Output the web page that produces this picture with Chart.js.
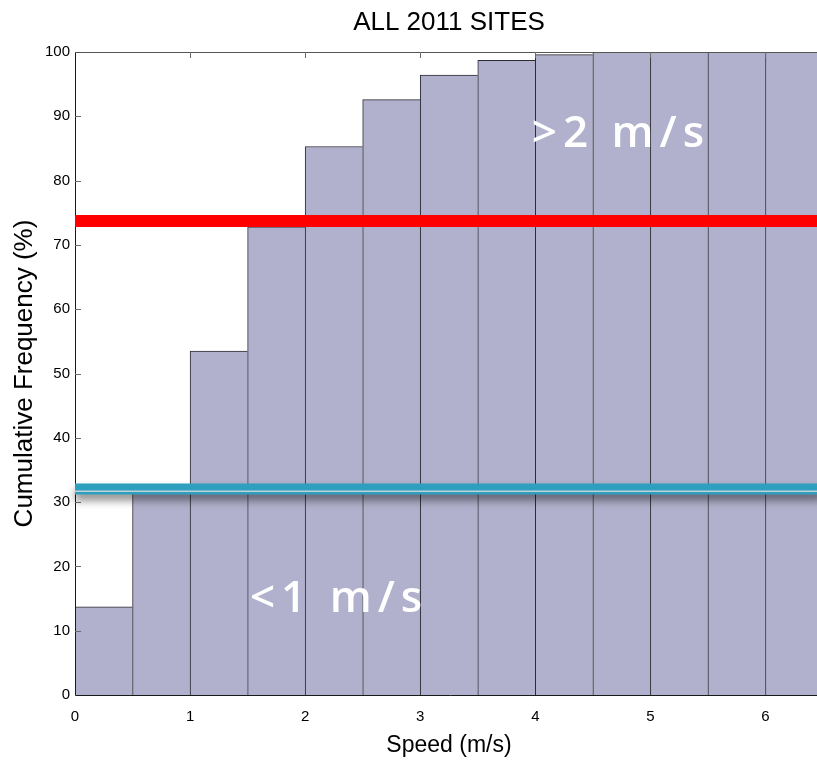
<!DOCTYPE html>
<html>
<head>
<meta charset="utf-8">
<title>ALL 2011 SITES</title>
<script src="https://cdn.jsdelivr.net/npm/chart.js@4.4.1/dist/chart.umd.min.js"></script>
<style>
  html, body { margin: 0; padding: 0; background: #ffffff; overflow: hidden; }
  #wrap { width: 817px; height: 764px; overflow: hidden; }
  canvas { display: block; }
</style>
</head>
<body>
<div id="wrap"><canvas id="cdf" width="824" height="764"></canvas></div>
<script>
// Speed bins (centre of each 0.5 m/s bin) and cumulative frequency (%)
const binCentres = [0.25, 0.75, 1.25, 1.75, 2.25, 2.75, 3.25, 3.75, 4.25, 4.75, 5.25, 5.75, 6.25];
const cumFreq    = [13.7, 31.7, 53.5, 72.8, 85.3, 92.6, 96.4, 98.7, 99.6, 99.95, 100, 100, 100];

// Threshold levels (%)
const levelAbove2 = 73.7;   // share of time below 2 m/s
const levelBelow1 = 32.05;  // share of time below 1 m/s
const levelBelow1Edge = 31.7;

// Axis ticks
const speedTicks = [0, 1, 2, 3, 4, 5, 6];
const freqTicks  = [0, 10, 20, 30, 40, 50, 60, 70, 80, 90, 100];

// Text notes placed in data units
const notes = [
  { text: '<1 m/s', x: 1.52, y: 12.9 },
  { text: '>2 m/s', x: 3.97, y: 85.2 }
];

const chartTitle = 'ALL 2011 SITES';
const X_MAX = 6.5;

Chart.defaults.font.family = "'Liberation Sans', Arial, Helvetica, sans-serif";
Chart.defaults.color = '#000000';

const span = (lvl) => [{ x: 0, y: lvl }, { x: X_MAX, y: lvl }];

// Box, inward tick marks, title over the axes and the text notes
const framePlugin = {
  id: 'frame',
  beforeDatasetDraw(chart, args) {
    const ds = chart.data.datasets[args.index];
    if (ds.shadow) {
      const ctx = chart.ctx;
      ctx.save();
      ctx.shadowColor = 'rgba(0,0,0,0.45)';
      ctx.shadowBlur = 9;
      ctx.shadowOffsetY = 6;
    }
  },
  afterDatasetDraw(chart, args) {
    const ds = chart.data.datasets[args.index];
    if (ds.shadow) chart.ctx.restore();
    if (ds.type !== 'bar') return;
    const ctx = chart.ctx;
    const a = chart.chartArea;
    const xs = chart.scales.x, ys = chart.scales.y;
    ctx.save();
    ctx.lineWidth = 1;
    ctx.strokeStyle = '#1a1a1a';
    ctx.beginPath();
    ctx.moveTo(Math.round(a.left) + 0.5, a.top);
    ctx.lineTo(Math.round(a.left) + 0.5, Math.round(a.bottom) + 0.5);
    ctx.lineTo(a.right + 2, Math.round(a.bottom) + 0.5);
    ctx.stroke();
    ctx.strokeStyle = '#555555';
    ctx.beginPath();
    ctx.moveTo(Math.round(a.left), Math.round(a.top) + 0.5);
    ctx.lineTo(a.right + 2, Math.round(a.top) + 0.5);
    ctx.stroke();
    // inward ticks
    ctx.strokeStyle = '#6a6a6a';
    ctx.beginPath();
    freqTicks.forEach(v => {
      if (v === 0 || v === 100) return;
      const py = Math.round(ys.getPixelForValue(v)) + 0.5;
      ctx.moveTo(a.left, py);
      ctx.lineTo(a.left + 6, py);
    });
    speedTicks.forEach(v => {
      if (v === 0) return;
      const px = Math.round(xs.getPixelForValue(v)) + 0.5;
      ctx.moveTo(px, a.top);
      ctx.lineTo(px, a.top + 6);
    });
    ctx.stroke();
    ctx.restore();
  },
  afterDatasetsDraw(chart) {
    const ctx = chart.ctx;
    const a = chart.chartArea;
    const xs = chart.scales.x, ys = chart.scales.y;
    ctx.save();
    // notes
    ctx.fillStyle = '#ffffff';
    ctx.font = "600 44px 'Open Sans', 'DejaVu Sans', sans-serif";
    ctx.textAlign = 'left';
    ctx.textBaseline = 'alphabetic';
    if ('letterSpacing' in ctx) ctx.letterSpacing = '6px';
    notes.forEach(n => {
      ctx.fillText(n.text, xs.getPixelForValue(n.x), ys.getPixelForValue(n.y));
    });
    if ('letterSpacing' in ctx) ctx.letterSpacing = '0px';
    // title, centred on the axes box
    ctx.fillStyle = '#000000';
    ctx.font = "26px 'Liberation Sans', Arial, sans-serif";
    ctx.textAlign = 'center';
    ctx.textBaseline = 'middle';
    ctx.fillText(chartTitle, (a.left + a.right) / 2, 23);
    ctx.restore();
  }
};

new Chart(document.getElementById('cdf'), {
  type: 'bar',
  data: {
    datasets: [
      {
        type: 'line',
        label: '> 2 m/s threshold',
        data: span(levelAbove2),
        borderColor: '#ff0000',
        borderWidth: 12,
        borderCapStyle: 'butt',
        pointRadius: 0,
        fill: false,
        clip: false,
        order: 0
      },
      {
        type: 'line',
        label: 'edge',
        data: span(levelBelow1Edge),
        borderColor: '#c3d2d6',
        borderWidth: 1.5,
        borderCapStyle: 'butt',
        pointRadius: 0,
        fill: false,
        clip: false,
        order: 0
      },
      {
        type: 'line',
        label: '< 1 m/s threshold',
        data: span(levelBelow1),
        borderColor: '#2e9fbe',
        borderWidth: 11,
        borderCapStyle: 'butt',
        pointRadius: 0,
        fill: false,
        clip: false,
        shadow: true,
        order: 1
      },
      {
        type: 'bar',
        label: 'Cumulative frequency',
        data: binCentres.map((c, i) => ({ x: c, y: cumFreq[i] })),
        backgroundColor: '#b1b1cd',
        borderColor: '#2b2b33',
        borderWidth: { top: 1, left: 1, right: 0, bottom: 0 },
        borderSkipped: false,
        barPercentage: 1,
        categoryPercentage: 1,
        order: 10
      }
    ]
  },
  options: {
    responsive: false,
    animation: false,
    layout: { padding: { left: 0, right: 1, top: 52, bottom: 0 } },
    plugins: {
      legend: { display: false },
      tooltip: { enabled: false },
      title: { display: false }
    },
    scales: {
      x: {
        type: 'linear',
        min: 0,
        max: X_MAX,
        offset: false,
        grid: { display: false, drawTicks: false },
        border: { display: false },
        ticks: {
          stepSize: 1,
          includeBounds: false,
          padding: 13,
          font: { size: 15 },
          color: '#000000'
        },
        title: {
          display: true,
          text: 'Speed (m/s)',
          font: { size: 23 },
          color: '#000000',
          padding: { top: 0, bottom: 5 }
        },
        afterFit(scale) { scale.height = 69; }
      },
      y: {
        min: 0,
        max: 100,
        grid: { display: false, drawTicks: false },
        border: { display: false },
        ticks: {
          stepSize: 10,
          padding: 5,
          font: { size: 15 },
          color: '#000000'
        },
        title: {
          display: true,
          text: 'Cumulative Frequency (%)',
          font: { size: 26 },
          color: '#000000',
          padding: { top: 9, bottom: 0 }
        },
        afterFit(scale) { scale.width = 75; }
      }
    }
  },
  plugins: [framePlugin]
});
</script>
</body>
</html>
